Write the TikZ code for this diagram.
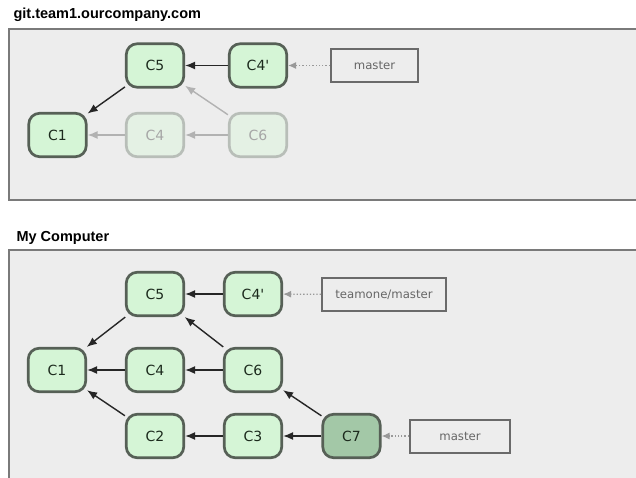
\documentclass[tikz,border=0pt]{standalone}
\usepackage{fontspec}
\setmainfont{Liberation Sans}
\newfontfamily\lblfont{DejaVu Sans}
\usetikzlibrary{arrows.meta}

\definecolor{panelbg}{HTML}{EDEDED}
\definecolor{panelline}{HTML}{7A7A7A}
\definecolor{commitfill}{HTML}{D5F5D6}
\definecolor{commitline}{HTML}{566056}
\definecolor{commitfade}{HTML}{E4F1E4}
\definecolor{fadeline}{HTML}{B8BEB8}
\definecolor{headfill}{HTML}{A3C8A7}
\definecolor{refline}{HTML}{6A6A6A}
\definecolor{commitText}{HTML}{1C2A1D}

\begin{document}
\begin{tikzpicture}[x=1pt,y=-1pt,
  panel/.style={fill=panelbg,draw=panelline,line width=2pt},
  title/.style={anchor=base west,font=\bfseries\fontsize{14.5}{16}\selectfont},
  commit/.style={draw=commitline,fill=commitfill,line width=2.7pt,rounded corners=11pt,
    minimum width=57.5pt,minimum height=43.5pt,inner sep=0pt,
    font=\lblfont\fontsize{14}{16}\selectfont,text=commitText},
  faded/.style={commit,draw=fadeline,fill=commitfade,text=black!35},
  refbox/.style={draw=refline,fill=panelbg,line width=2pt,minimum height=33pt,inner sep=0pt,
    font=\lblfont\fontsize{11.7}{13}\selectfont,text=black!60},
  parent/.style={-{Latex[length=10pt,width=8pt]},line width=1.4pt,black!85},
  oldparent/.style={parent,black!30},
  pointer/.style={-{Latex[length=8pt,width=7pt]},line width=1.3pt,dotted,black!40}
]
\clip (0,0) rectangle (636,478);
\fill[white] (0,0) rectangle (636,478);

% server
\node[title] (srvtitle) at (10,19) {git.team1.ourcompany.com};
\draw[panel] (9,29) rectangle (650,200);

\node[commit] (sc5) at (155,65.5) {C5};
\node[commit] (sc4p) at (258,65.5) {C4'};
\node[commit] (sc1) at (57.5,135) {C1};
\node[faded] (sc4) at (155,135) {C4};
\node[faded] (sc6) at (258,135) {C6};
\node[refbox,minimum width=87pt] (smaster) at (374.5,65.5) {master};

\draw[parent] (sc4p) -- (sc5);
\draw[parent] (sc5) -- (sc1);
\draw[oldparent] (sc4) -- (sc1);
\draw[oldparent] (sc6) -- (sc4);
\draw[oldparent] (sc6) -- (sc5);
\draw[pointer] (smaster) -- (sc4p);

% local
\node[title] (loctitle) at (13,241) {My Computer};
\draw[panel] (9,250) rectangle (650,490);

\node[commit] (c5) at (155,294) {C5};
\node[commit] (c4p) at (253,294) {C4'};
\node[commit] (c1) at (57,370) {C1};
\node[commit] (c4) at (155,370) {C4};
\node[commit] (c6) at (253,370) {C6};
\node[commit] (c2) at (155,436) {C2};
\node[commit] (c3) at (253,436) {C3};
\node[commit,fill=headfill] (c7) at (351.5,436) {C7};
\node[refbox,minimum width=124pt] (tmaster) at (384,294.5) {teamone/master};
\node[refbox,minimum width=100pt] (lmaster) at (460,436) {master};

\draw[parent] (c4p) -- (c5);
\draw[parent] (c5) -- (c1);
\draw[parent] (c4) -- (c1);
\draw[parent] (c6) -- (c4);
\draw[parent] (c6) -- (c5);
\draw[parent] (c2) -- (c1);
\draw[parent] (c3) -- (c2);
\draw[parent] (c7) -- (c3);
\draw[parent] (c7) -- (c6);
\draw[pointer] (tmaster) -- (c4p);
\draw[pointer] (lmaster) -- (c7);
\end{tikzpicture}
\end{document}
